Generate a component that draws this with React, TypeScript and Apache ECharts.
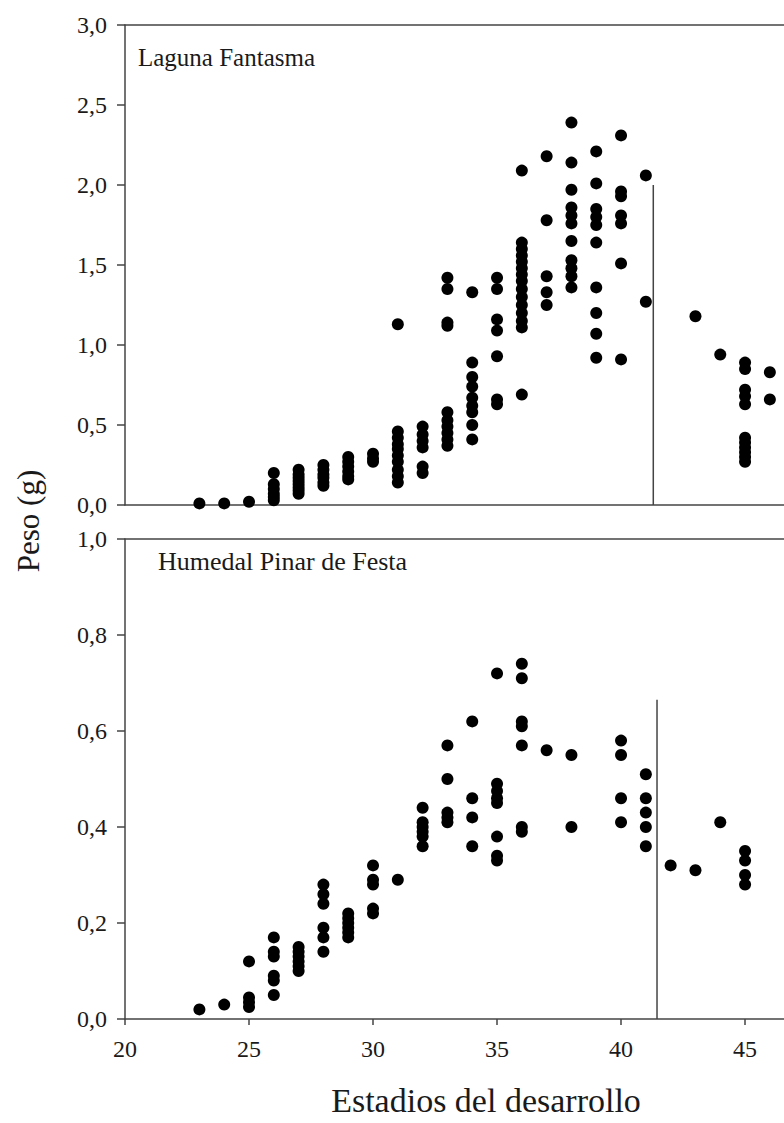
import React, { useEffect, useRef } from "react";
import * as echarts from "echarts";

// Laguna Fantasma (top panel)
const lfStages = [23, 24, 25, 26, 27, 28, 29, 30, 31, 32, 33, 34, 35, 36, 37, 38, 39, 40, 41, 43, 44, 45, 46];
const lfWeights = [
  [0.01],
  [0.01],
  [0.02],
  [0.2, 0.13, 0.1, 0.07, 0.05, 0.03],
  [0.22, 0.19, 0.17, 0.15, 0.13, 0.11, 0.09, 0.07],
  [0.25, 0.22, 0.19, 0.17, 0.14, 0.12],
  [0.3, 0.27, 0.24, 0.21, 0.18, 0.16],
  [0.32, 0.29, 0.27],
  [1.13, 0.46, 0.42, 0.38, 0.35, 0.31, 0.27, 0.22, 0.18, 0.14],
  [0.49, 0.44, 0.4, 0.36, 0.24, 0.2],
  [1.42, 1.35, 1.14, 1.12, 0.58, 0.53, 0.49, 0.45, 0.41, 0.37],
  [1.33, 0.89, 0.8, 0.74, 0.67, 0.62, 0.58, 0.5, 0.41],
  [1.42, 1.35, 1.16, 1.09, 0.93, 0.66, 0.63],
  [2.09, 1.64, 1.6, 1.56, 1.52, 1.48, 1.44, 1.4, 1.35, 1.3, 1.25, 1.2, 1.15, 1.11, 0.69],
  [2.18, 1.78, 1.43, 1.33, 1.25],
  [2.39, 2.14, 1.97, 1.86, 1.81, 1.76, 1.65, 1.53, 1.48, 1.43, 1.36],
  [2.21, 2.01, 1.85, 1.8, 1.75, 1.64, 1.36, 1.2, 1.07, 0.92],
  [2.31, 1.96, 1.93, 1.81, 1.76, 1.51, 0.91],
  [2.06, 1.27],
  [1.18],
  [0.94],
  [0.89, 0.85, 0.72, 0.68, 0.63, 0.42, 0.39, 0.36, 0.33, 0.3, 0.27],
  [0.83, 0.66],
];
const lfLimitStage = 41.3;
const lfLimitTop = 2.0;

// Humedal Pinar de Festa (bottom panel)
const hpStages = [23, 24, 25, 26, 27, 28, 29, 30, 31, 32, 33, 34, 35, 36, 37, 38, 40, 41, 42, 43, 44, 45];
const hpWeights = [
  [0.02],
  [0.03],
  [0.12, 0.045, 0.035, 0.025],
  [0.17, 0.14, 0.13, 0.09, 0.08, 0.05],
  [0.15, 0.14, 0.13, 0.12, 0.11, 0.1],
  [0.28, 0.26, 0.24, 0.19, 0.17, 0.14],
  [0.22, 0.21, 0.2, 0.19, 0.18, 0.17],
  [0.32, 0.29, 0.28, 0.23, 0.22],
  [0.29],
  [0.44, 0.41, 0.4, 0.39, 0.38, 0.36],
  [0.57, 0.5, 0.43, 0.42, 0.41],
  [0.62, 0.46, 0.42, 0.36],
  [0.72, 0.49, 0.475, 0.46, 0.45, 0.38, 0.34, 0.33],
  [0.74, 0.71, 0.62, 0.61, 0.57, 0.4, 0.39],
  [0.56],
  [0.55, 0.4],
  [0.58, 0.55, 0.46, 0.41],
  [0.51, 0.46, 0.43, 0.4, 0.36],
  [0.32],
  [0.31],
  [0.41],
  [0.35, 0.33, 0.3, 0.28],
];
const hpLimitStage = 41.45;
const hpLimitTop = 0.665;

const xTicks = [20, 25, 30, 35, 40, 45];
const xMin = 20;
const xMax = 46.57;

const SERIF = "'Liberation Serif', 'Times New Roman', serif";
const AXIS = "#444";
const TXT = "#1a1a1a";

function toPoints(stages: number[], weights: number[][]) {
  const out: number[][] = [];
  stages.forEach((s, i) => weights[i].forEach((w) => out.push([s, w])));
  return out;
}

const fmt = (v: number) => v.toFixed(1).replace(".", ",");

export default function App() {
  const ref = useRef<HTMLDivElement>(null);
  useEffect(() => {
    if (!ref.current) return;
    const chart = echarts.init(ref.current, undefined, { renderer: "svg" });
    const lineStyle = { color: AXIS, width: 1.5 };
    const hiddenX = (gridIndex: number, position: string) => ({
      type: "value",
      gridIndex,
      position,
      min: xMin,
      max: xMax,
      axisLine: { show: true, onZero: false, lineStyle },
      axisTick: { show: false },
      axisLabel: { show: false },
      splitLine: { show: false },
    });
    const yAxis = (gridIndex: number, max: number, interval: number) => ({
      type: "value",
      gridIndex,
      min: 0,
      max,
      interval,
      axisLine: { show: true, lineStyle },
      axisTick: { show: true, inside: false, length: 8, lineStyle },
      axisLabel: {
        formatter: fmt,
        fontFamily: SERIF,
        fontSize: 24,
        color: TXT,
        margin: 18,
      },
      splitLine: { show: false },
    });
    const dotStyle = { color: "#000", opacity: 1 };
    chart.setOption({
      animation: false,
      backgroundColor: "#ffffff",
      grid: [
        { left: 125, top: 25, width: 659, height: 480 },
        { left: 125, top: 539, width: 659, height: 480 },
      ],
      xAxis: [
        hiddenX(0, "bottom"),
        hiddenX(0, "top"),
        {
          type: "value",
          gridIndex: 1,
          position: "bottom",
          min: xMin,
          max: xMax,
          axisLine: { show: true, onZero: false, lineStyle },
          axisTick: { show: true, length: 6, customValues: xTicks, lineStyle },
          axisLabel: {
            customValues: xTicks,
            fontFamily: SERIF,
            fontSize: 24,
            color: TXT,
            margin: 18,
          },
          splitLine: { show: false },
        },
        hiddenX(1, "top"),
      ],
      yAxis: [yAxis(0, 3, 0.5), yAxis(1, 1, 0.2)],
      series: [
        {
          type: "scatter",
          xAxisIndex: 0,
          yAxisIndex: 0,
          symbol: "circle",
          symbolSize: 12,
          itemStyle: dotStyle,
          data: toPoints(lfStages, lfWeights),
        },
        {
          type: "line",
          xAxisIndex: 0,
          yAxisIndex: 0,
          symbol: "none",
          lineStyle: { color: AXIS, width: 1.5 },
          data: [
            [lfLimitStage, 0],
            [lfLimitStage, lfLimitTop],
          ],
        },
        {
          type: "scatter",
          xAxisIndex: 2,
          yAxisIndex: 1,
          symbol: "circle",
          symbolSize: 12,
          itemStyle: dotStyle,
          data: toPoints(hpStages, hpWeights),
        },
        {
          type: "line",
          xAxisIndex: 2,
          yAxisIndex: 1,
          symbol: "none",
          lineStyle: { color: AXIS, width: 1.5 },
          data: [
            [hpLimitStage, 0],
            [hpLimitStage, hpLimitTop],
          ],
        },
      ],
      graphic: [
        {
          type: "text",
          x: 138,
          y: 57,
          style: {
            text: "Laguna Fantasma",
            font: `25px ${SERIF}`,
            fill: TXT,
            textAlign: "left",
            textVerticalAlign: "middle",
          },
        },
        {
          type: "text",
          x: 158,
          y: 561,
          style: {
            text: "Humedal Pinar de Festa",
            font: `26px ${SERIF}`,
            fill: TXT,
            textAlign: "left",
            textVerticalAlign: "middle",
          },
        },
        {
          type: "text",
          x: 28,
          y: 521,
          rotation: Math.PI / 2,
          style: {
            text: "Peso (g)",
            font: `31px ${SERIF}`,
            fill: TXT,
            textAlign: "center",
            textVerticalAlign: "middle",
          },
        },
        {
          type: "text",
          x: 486,
          y: 1100,
          style: {
            text: "Estadios del desarrollo",
            font: `34px ${SERIF}`,
            fill: TXT,
            textAlign: "center",
            textVerticalAlign: "middle",
          },
        },
      ],
    });
    return () => chart.dispose();
  }, []);
  return (
    <div style={{ position: "fixed", left: 0, top: 0, width: 784, height: 1123, overflow: "hidden", background: "#fff" }}>
      <div ref={ref} style={{ width: 784, height: 1123 }} />
    </div>
  );
}
